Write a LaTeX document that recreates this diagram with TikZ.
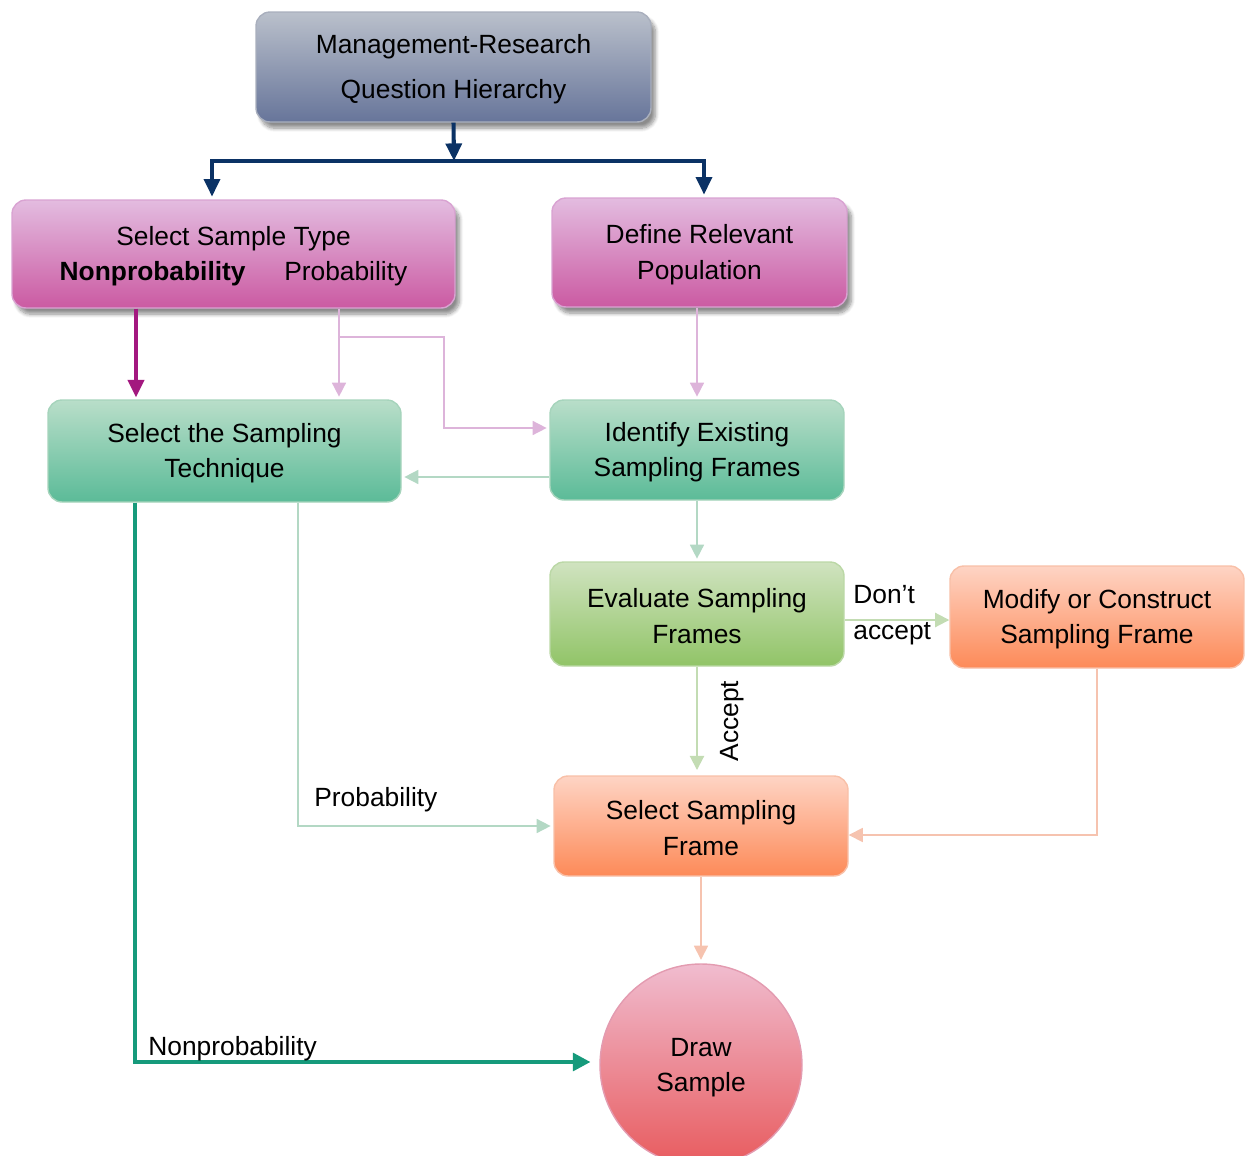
\documentclass[tikz,border=0pt]{standalone}
\usepackage{fontspec}
\setmainfont{Liberation Sans}
\usetikzlibrary{arrows.meta,shadows.blur,calc}
\definecolor{mrqT}{HTML}{BAC0CB}
\definecolor{mrqB}{HTML}{67759A}
\definecolor{mrqD}{HTML}{A9AFBD}
\definecolor{pkT}{HTML}{E3BCE0}
\definecolor{pkB}{HTML}{CB5AA2}
\definecolor{pkD}{HTML}{D9A3D2}
\definecolor{gnT}{HTML}{B9DEC9}
\definecolor{gnB}{HTML}{5BBB98}
\definecolor{gnD}{HTML}{A6D4BC}
\definecolor{lgT}{HTML}{D0E3C0}
\definecolor{lgB}{HTML}{91C467}
\definecolor{lgD}{HTML}{BBD8A6}
\definecolor{orT}{HTML}{FED4C4}
\definecolor{orB}{HTML}{FD8A58}
\definecolor{orD}{HTML}{F8C0A8}
\definecolor{rdT}{HTML}{F0BCCF}
\definecolor{rdB}{HTML}{E85B5E}
\definecolor{rdD}{HTML}{E39BB0}
\definecolor{navy}{HTML}{0B3265}
\definecolor{purp}{HTML}{A3187F}
\definecolor{pinkln}{HTML}{DDB4DA}
\definecolor{greenln}{HTML}{B3D8C4}
\definecolor{teal}{HTML}{169A7B}
\definecolor{lgln}{HTML}{C3DCB3}
\definecolor{salln}{HTML}{F6C3AF}
\begin{document}
\begin{tikzpicture}[x=0.02cm,y=-0.02cm,
  box/.style={rectangle, rounded corners=8pt, align=center, line width=0.8pt,
    font=\fontsize{15}{20}\selectfont, inner sep=2pt},
  shad/.style={blur shadow={shadow xshift=2.5pt, shadow yshift=-3.5pt, shadow blur steps=8, shadow opacity=45}},
  mrqbox/.style={box, draw=mrqD, top color=mrqT, bottom color=mrqB, shad, font=\fontsize{15}{26}\selectfont},
  pkbox/.style={box, draw=pkD, top color=pkT, bottom color=pkB, shad},
  gnbox/.style={box, draw=gnD, top color=gnT, bottom color=gnB},
  lgbox/.style={box, draw=lgD, top color=lgT, bottom color=lgB},
  orbox/.style={box, draw=orD, top color=orT, bottom color=orB},
  navyarrow/.style={draw=navy, line width=2.3pt, -{Triangle[length=10pt,width=9pt]}},
  navyline/.style={draw=navy, line width=2.3pt, shorten >=1.5pt},
  purparrow/.style={draw=purp, line width=2.3pt, shorten >=1pt, -{Triangle[length=10pt,width=9pt]}},
  tealarrow/.style={draw=teal, line width=2.3pt, shorten >=5pt, -{Triangle[length=10pt,width=10pt]}},
  pinkarrow/.style={draw=pinkln, line width=0.9pt, shorten >=1.5pt, -{Triangle[length=8pt,width=8pt]}},
  greenarrow/.style={draw=greenln, line width=0.9pt, shorten >=1.5pt, -{Triangle[length=8pt,width=8pt]}},
  lgarrow/.style={draw=lgln, line width=1.1pt, -{Triangle[length=8pt,width=8pt]}},
  salarrow/.style={draw=salln, line width=0.9pt, -{Triangle[length=8pt,width=8pt]}},
  lbl/.style={font=\fontsize{15}{20}\selectfont, inner sep=0pt}
]
\useasboundingbox (0,0) rectangle (1245,1156);
\def\dn{\rule{0pt}{13.3pt}}

% nodes
\node[mrqbox, minimum width=395*0.02cm, minimum height=110*0.02cm] (mrq) at (453.5,67)
  {\dn Management-Research\\Question Hierarchy};
\node[pkbox, minimum width=443*0.02cm, minimum height=108*0.02cm] (sst) at (233.5,254)
  {\dn Select Sample Type\\\textbf{Nonprobability}\hspace{22pt}Probability};
\node[pkbox, minimum width=295*0.02cm, minimum height=109*0.02cm] (drp) at (699.5,252.5)
  {\dn Define Relevant\\Population};
\node[gnbox, minimum width=353*0.02cm, minimum height=102*0.02cm] (sts) at (224.5,451)
  {\dn Select the Sampling\\Technique};
\node[gnbox, minimum width=294*0.02cm, minimum height=100*0.02cm] (iesf) at (697,450)
  {\dn Identify Existing\\Sampling Frames};
\node[lgbox, minimum width=294*0.02cm, minimum height=104*0.02cm] (esf) at (697,614)
  {\dn Evaluate Sampling\\Frames};
\node[orbox, minimum width=294*0.02cm, minimum height=102*0.02cm] (mcsf) at (1097,617)
  {\dn Modify or Construct\\Sampling Frame};
\node[orbox, minimum width=294*0.02cm, minimum height=100*0.02cm] (ssf) at (701,826)
  {\dn Select Sampling\\Frame};
\node[circle, draw=rdD, line width=0.8pt, top color=rdT, bottom color=rdB, minimum size=202*0.02cm,
  align=center, font=\fontsize{15}{20}\selectfont, inner sep=0pt] (ds) at (701,1065)
  {\dn Draw\\Sample};

% bend coordinates
\coordinate (split) at (454,161);
\coordinate (pbranch) at (339,337);
\coordinate (pturn) at (444,337);

% navy connectors
\draw[navyarrow] (mrq.south) -- (split);
\draw[navyline, -{Triangle[length=10pt,width=9pt]}] (split) -| (sst.north -| 212,0);
\draw[navyline, -{Triangle[length=10pt,width=9pt]}] (split) -| (drp.north -| 704,0);

% nonprobability purple
\draw[purparrow] (sst.south -| 136,0) -- (sts.north -| 136,0);

% probability pink
\draw[pinkarrow] (sst.south -| 339,0) -- (sts.north -| 339,0);
\draw[pinkarrow] (pbranch) -- (pturn) |- (iesf.west |- 0,428);
\draw[pinkarrow] (drp.south -| iesf.north) -- (iesf.north);

% identify -> technique, identify -> evaluate
\draw[greenarrow] (iesf.west |- 0,477) -- (sts.east |- 0,477);
\draw[greenarrow] (iesf.south) -- (esf.north);

% technique -> draw sample (nonprobability)
\draw[tealarrow] (sts.south -| 135,0) |- (ds.west |- 0,1062);
\node[lbl, anchor=base west] (lnp) at (148,1055) {Nonprobability};

% technique -> select frame (probability)
\draw[greenarrow] (sts.south -| 298,0) |- (ssf.west);
\node[lbl, anchor=base west] (lp) at (314,806) {Probability};

% evaluate -> modify
\draw[lgarrow] (esf.east |- 0,620) -- (mcsf.west |- 0,620);
\node[lbl, anchor=base west] (ldont) at (853,603) {Don’t};
\node[lbl, anchor=base west] (lacc) at (853,639) {accept};

% evaluate -> select (accept)
\draw[lgarrow, shorten >=3pt] (esf.south) -- (esf.south |- ssf.north);
\node[lbl, rotate=90] (laccept) at (732,721) {Accept};

% modify -> select
\draw[salarrow] (mcsf.south) |- (ssf.east |- 0,835);

% select -> draw sample
\draw[salarrow, shorten >=2pt] (ssf.south) -- (ds.north);
\end{tikzpicture}
\end{document}
